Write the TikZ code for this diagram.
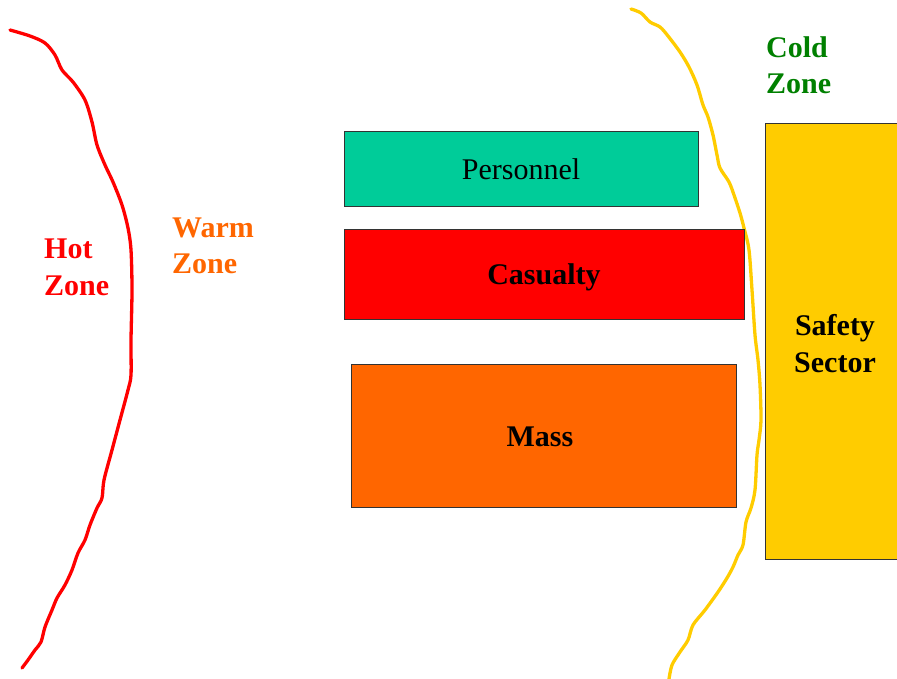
\documentclass[tikz,border=0pt]{standalone}
\usepackage{fontspec}
\setmainfont{Liberation Serif}
\definecolor{hotred}{HTML}{FF0000}
\definecolor{warmorange}{HTML}{FF6600}
\definecolor{coldgreen}{HTML}{008000}
\definecolor{gold}{HTML}{FFCC00}
\definecolor{teal}{HTML}{00CC99}
\begin{document}
\begin{tikzpicture}[x=1pt,y=-1pt,
  box/.style={draw=black!80,line width=0.8pt},
  lbl/.style={inner sep=0pt,font=\fontsize{30}{36.5}\selectfont\bfseries,align=left},
  boxtext/.style={inner sep=0pt,font=\fontsize{30}{36}\selectfont,align=center},
  curve/.style={line width=3.3pt,line cap=round,line join=round}]
\useasboundingbox (0,0) rectangle (897,679);
\clip (0,0) rectangle (897,679);
% zone boundaries
\draw[curve,hotred] plot[smooth,tension=0.5] coordinates {(10,30) (30,36) (45,43) (55,55) (62,70) (73,82) (85,100) (92,122) (97,145) (105,165) (113,182) (122,205) (128,228) (131,250) (132,290) (131,340) (131,375) (128,390) (120,420) (112,450) (104,480) (102,498) (97,508) (90,525) (85,540) (78,553) (72,570) (65,585) (57,598) (52,610) (45,627) (41,642) (35,650) (28,660) (22,668)};
\draw[curve,gold] plot[smooth,tension=0.5] coordinates {(631,9) (641,13) (650,22) (660,27) (668,36) (680,52) (689,67) (697,85) (703,105) (708,117) (713,135) (717,155) (720,168) (729,182) (734,195) (740,213) (744,228) (749,250) (752,290) (755,335) (758,360) (760,385) (761,420) (759,440) (757,455) (755,490) (751,508) (746,522) (743,545) (738,555) (733,567) (727,578) (718,592) (705,610) (693,625) (688,640) (680,652) (672,665) (669,679)};
% boxes
\node[box,fill=teal,minimum width=354pt,minimum height=75pt,inner sep=0pt] (personnel) at (521,168.5) {};
\node[box,fill=hotred,minimum width=400pt,minimum height=90pt,inner sep=0pt] (casualty) at (544,274) {};
\node[box,fill=warmorange,minimum width=385pt,minimum height=143pt,inner sep=0pt] (mass) at (543.5,435.5) {};
\node[box,fill=gold,minimum width=140pt,minimum height=436pt,inner sep=0pt,anchor=north west] (safety) at (765,123) {};
% box texts
\node[boxtext,anchor=base] (ptext) at (521,180) {Personnel};
\node[boxtext,anchor=base,font=\fontsize{30}{36}\selectfont\bfseries] (ctext) at (544,284) {Casualty};
\node[boxtext,anchor=base,font=\fontsize{30}{36}\selectfont\bfseries] (mtext) at (540,446) {Mass};
\node[boxtext,font=\fontsize{30}{37}\selectfont\bfseries] (stext) at (835,344) {Safety\\Sector};
% zone labels
\node[lbl,text=hotred,anchor=west] (hot) at (44,267.5) {Hot\\Zone};
\node[lbl,text=warmorange,anchor=west] (warm) at (172,246) {Warm\\Zone};
\node[lbl,text=coldgreen,anchor=west] (cold) at (766,65) {Cold\\Zone};
\end{tikzpicture}
\end{document}
